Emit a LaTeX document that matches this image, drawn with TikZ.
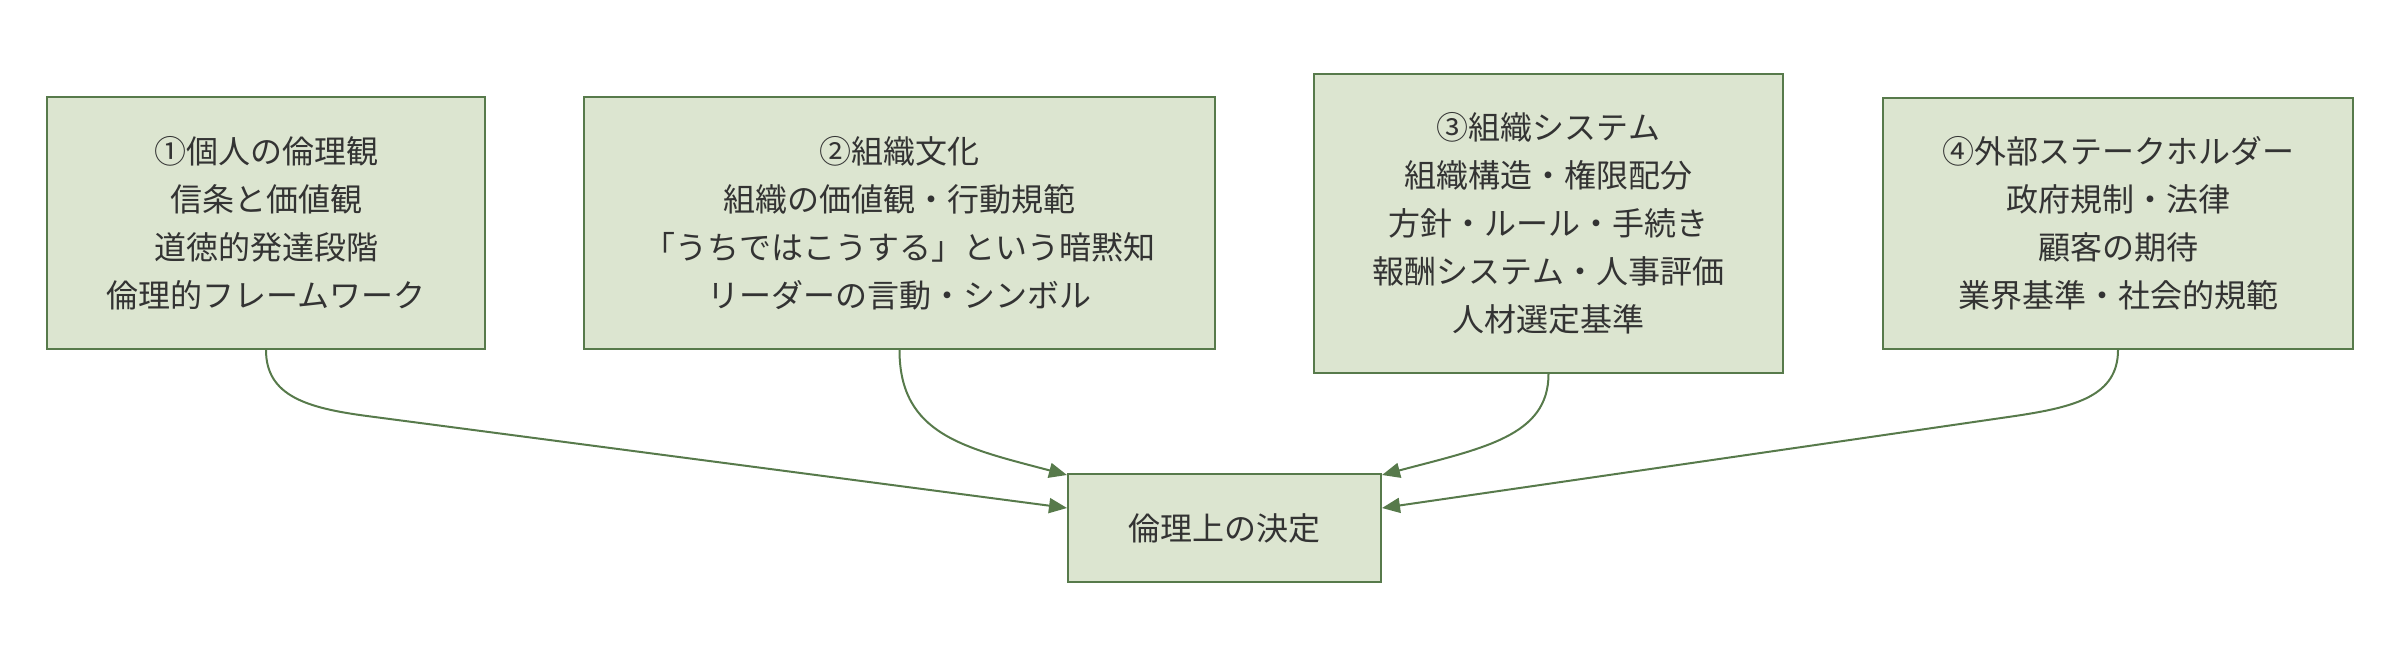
\documentclass[tikz,border=0pt]{standalone}
\usepackage{fontspec}
\setmainfont{Noto Sans CJK JP}
\usetikzlibrary{arrows.meta,calc}
\definecolor{boxfill}{HTML}{DCE5D0}
\definecolor{boxline}{HTML}{577A4B}
\definecolor{txt}{HTML}{333333}
\tikzset{
  box/.style={draw=boxline, fill=boxfill, line width=1pt, inner sep=0pt, align=center,
    text=txt, font=\fontsize{16pt}{24pt}\selectfont},
  conn/.style={draw=boxline, line width=1pt, -{Triangle[length=9pt,width=7.5pt]}}
}
\begin{document}
\begin{tikzpicture}[x=0.5pt,y=-0.5pt]
\useasboundingbox (0,0) rectangle (2400,660);
\node[box, minimum width=219pt, minimum height=126pt] (a) at (266,223)
  {①個人の倫理観\\信条と価値観\\道徳的発達段階\\倫理的フレームワーク};
\node[box, minimum width=315.5pt, minimum height=126pt] (b) at (899.5,223)
  {②組織文化\\組織の価値観・行動規範\\「うちではこうする」という暗黙知\\リーダーの言動・シンボル};
\node[box, minimum width=234.5pt, minimum height=149.5pt] (c) at (1548.5,223.5)
  {③組織システム\\組織構造・権限配分\\方針・ルール・手続き\\報酬システム・人事評価\\人材選定基準};
\node[box, minimum width=235pt, minimum height=125.5pt] (e) at (2118,223.5)
  {④外部ステークホルダー\\政府規制・法律\\顧客の期待\\業界基準・社会的規範};
\node[box, minimum width=156.5pt, minimum height=54pt] (d) at (1224.5,528)
  {倫理上の決定};
\coordinate (dl1) at ($(d.north west)+(0,35)$);
\coordinate (dl2) at ($(d.north west)+(0,2)$);
\coordinate (dr1) at ($(d.north east)+(0,2)$);
\coordinate (dr2) at ($(d.north east)+(0,35)$);
\draw[conn] (a.south) .. controls ($(a.south)+(0,46)$) and (307,408) .. (367,416) -- (dl1);
\draw[conn] (b.south) .. controls ($(b.south)+(0,85)$) and (965,448) .. (dl2);
\draw[conn] (c.south) .. controls ($(c.south)+(0,62)$) and (1484,448) .. (dr1);
\draw[conn] (e.south) .. controls ($(e.south)+(0,46)$) and (2075,407) .. (2015,416) -- (dr2);
\end{tikzpicture}
\end{document}
